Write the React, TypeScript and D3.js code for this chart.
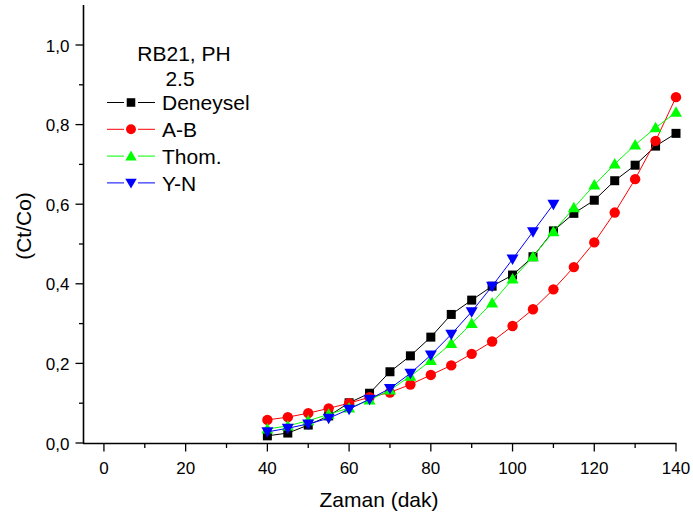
import React from "react";
import * as d3 from "d3";

const times = [40, 45, 50, 55, 60, 65, 70, 75, 80, 85, 90, 95, 100, 105, 110, 115, 120, 125, 130, 135, 140];
const deneysel = [0.018, 0.025, 0.045, 0.068, 0.101, 0.125, 0.179, 0.219, 0.266, 0.323, 0.359, 0.394, 0.422, 0.468, 0.533, 0.577, 0.61, 0.659, 0.698, 0.746, 0.778];
const ab = [0.058, 0.065, 0.075, 0.087, 0.1, 0.115, 0.127, 0.147, 0.171, 0.195, 0.224, 0.255, 0.294, 0.336, 0.386, 0.442, 0.504, 0.579, 0.663, 0.759, 0.869];
const thom = [0.035, 0.043, 0.056, 0.072, 0.088, 0.108, 0.133, 0.168, 0.207, 0.25, 0.3, 0.352, 0.412, 0.468, 0.531, 0.591, 0.648, 0.701, 0.749, 0.792, 0.831];
const yn = [0.028, 0.037, 0.048, 0.062, 0.085, 0.11, 0.137, 0.175, 0.221, 0.273, 0.33, 0.394, 0.462, 0.531, 0.6];
const xTicks = [0, 20, 40, 60, 80, 100, 120, 140];
const yTicks = [0, 0.2, 0.4, 0.6, 0.8, 1.0];

const seriesList = [
  { name: "Deneysel", values: deneysel, color: "#000000", shape: "square" },
  { name: "A-B", values: ab, color: "#ff0000", shape: "circle" },
  { name: "Thom.", values: thom, color: "#00ff00", shape: "up" },
  { name: "Y-N", values: yn, color: "#0000ff", shape: "down" },
];

const FONT = "'Liberation Sans', Arial, sans-serif";

function Marker({ shape, x, y, color, s = 1 }: { shape: string; x: number; y: number; color: string; s?: number }) {
  if (shape === "square") return <rect x={x - 4.5 * s} y={y - 4.5 * s} width={9 * s} height={9 * s} fill={color} />;
  if (shape === "circle") return <circle cx={x} cy={y} r={5.2 * s} fill={color} />;
  if (shape === "up")
    return <path d={`M${x},${y - 6 * s} L${x + 6 * s},${y + 4.5 * s} L${x - 6 * s},${y + 4.5 * s} Z`} fill={color} />;
  return <path d={`M${x},${y + 6 * s} L${x + 6 * s},${y - 4.5 * s} L${x - 6 * s},${y - 4.5 * s} Z`} fill={color} />;
}

export default function App() {
  const W = 693, H = 520;
  const x = d3.scaleLinear().domain([-5, 140]).range([83.5, 676]);
  const y = d3.scaleLinear().domain([0, 1.1]).range([443, 5.2]);
  const line = d3.line<[number, number]>().x((d) => x(d[0])).y((d) => y(d[1]));
  const minorX = d3.range(0, 141, 10).filter((v) => v % 20 !== 0);
  const minorY = [0.1, 0.3, 0.5, 0.7, 0.9];
  const fmt = (v: number) => d3.format(".1f")(v).replace(".", ",");

  return (
    <svg width={W} height={H} style={{ display: "block", position: "absolute", left: 0, top: 0 }} fontFamily={FONT}>
      <rect width={W} height={H} fill="#fff" />
      {seriesList.map((s) => {
        const pts = s.values.map((v, i) => [times[i], v] as [number, number]);
        return (
          <g key={s.name}>
            <path d={line(pts) || ""} fill="none" stroke={s.color} strokeWidth={1} />
            {pts.map((p, i) => (
              <Marker key={i} shape={s.shape} x={x(p[0])} y={y(p[1])} color={s.color} />
            ))}
          </g>
        );
      })}
      <line x1={83.5} x2={83.5} y1={5} y2={443.5} stroke="#000" strokeWidth={1.6} />
      <line x1={83} x2={676.5} y1={443.5} y2={443.5} stroke="#000" strokeWidth={1.6} />
      {xTicks.map((t) => (
        <g key={t}>
          <line x1={x(t)} x2={x(t)} y1={443.5} y2={451.5} stroke="#000" strokeWidth={1.3} />
          <text x={x(t)} y={473.5} textAnchor="middle" fontSize={17}>{t}</text>
        </g>
      ))}
      {minorX.map((t) => (
        <line key={t} x1={x(t)} x2={x(t)} y1={443.5} y2={448} stroke="#000" strokeWidth={1.3} />
      ))}
      {yTicks.map((t) => (
        <g key={t}>
          <line x1={75.5} x2={83.5} y1={y(t)} y2={y(t)} stroke="#000" strokeWidth={1.3} />
          <text x={69.5} y={y(t) + 6.5} textAnchor="end" fontSize={17}>{fmt(t)}</text>
        </g>
      ))}
      {minorY.map((t) => (
        <line key={t} x1={79} x2={83.5} y1={y(t)} y2={y(t)} stroke="#000" strokeWidth={1.3} />
      ))}
      <text x={379} y={507} textAnchor="middle" fontSize={21}>Zaman (dak)</text>
      <text transform={`translate(31,226) rotate(-90)`} textAnchor="middle" fontSize={21}>(Ct/Co)</text>
      <text x={184} y={60.5} textAnchor="middle" fontSize={21}>RB21, PH</text>
      <text x={180} y={85.5} textAnchor="middle" fontSize={21}>2.5</text>
      {seriesList.map((s, i) => {
        const ly = 102.5 + i * 26.8;
        return (
          <g key={s.name}>
            <line x1={107} x2={124} y1={ly} y2={ly} stroke={s.color} strokeWidth={1} />
            <line x1={138} x2={155} y1={ly} y2={ly} stroke={s.color} strokeWidth={1} />
            <Marker shape={s.shape} x={131} y={ly} color={s.color} s={0.95} />
            <text x={162} y={ly + 7.7} fontSize={21}>{s.name}</text>
          </g>
        );
      })}
    </svg>
  );
}
